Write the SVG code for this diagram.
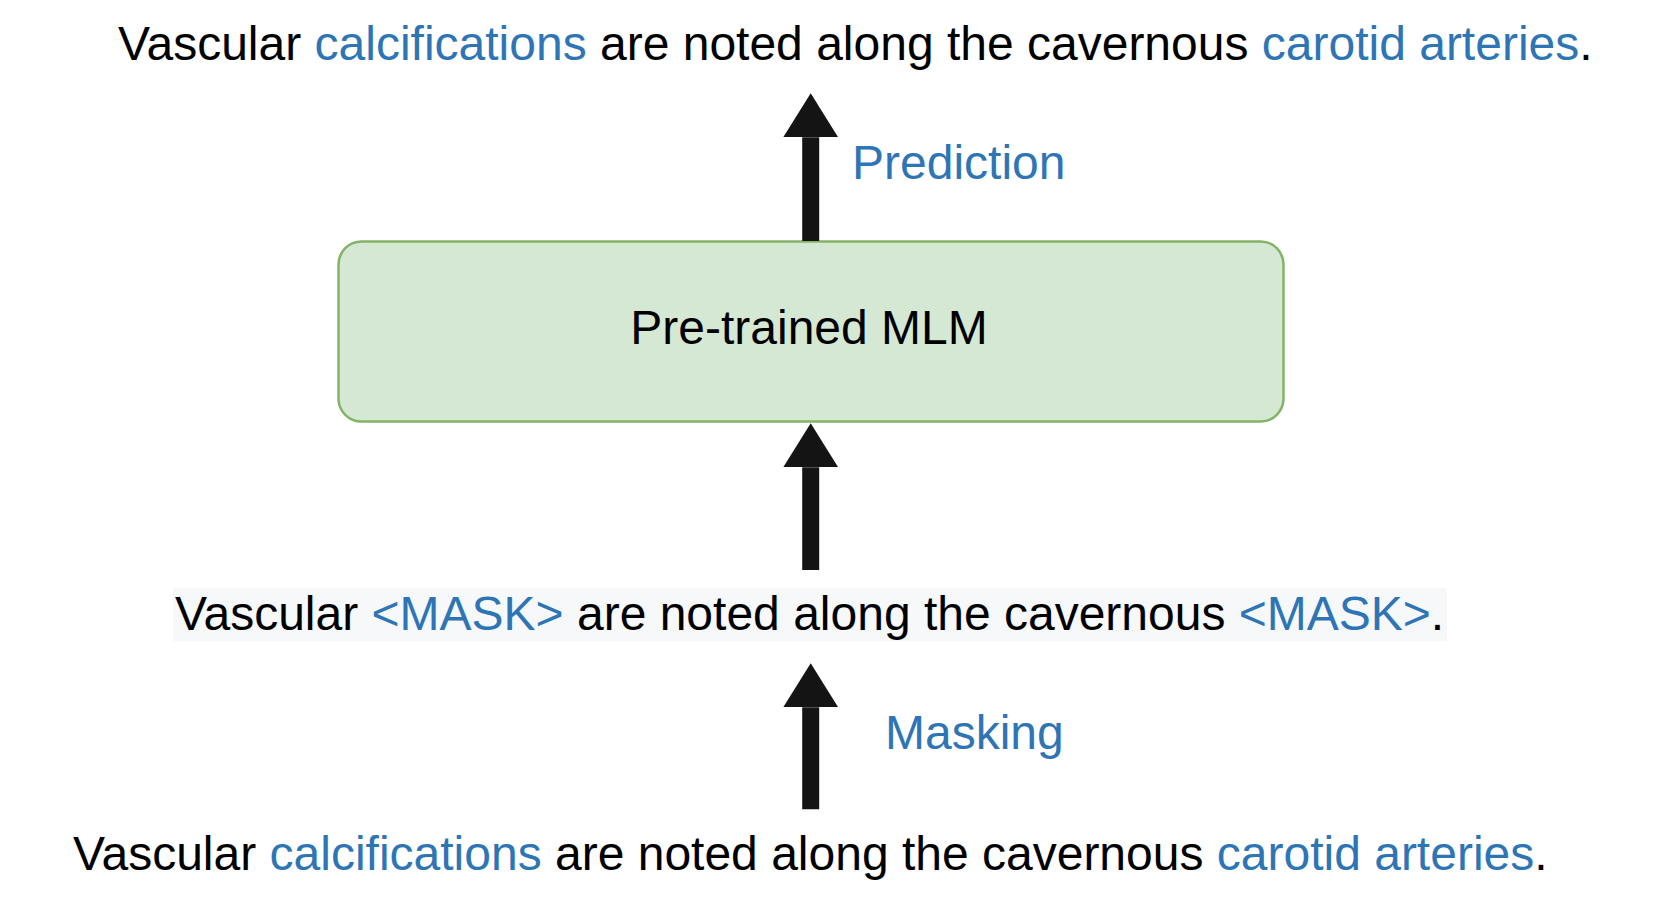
<svg xmlns="http://www.w3.org/2000/svg" width="1671" height="903" viewBox="0 0 1671 903">
  <style>
    .t { font-family: "Liberation Sans", Arial, sans-serif; font-size: 48px; fill: #000000; }
    .b { fill: #2e75b6; }
    .arrow { stroke: #141414; stroke-width: 17; fill: none; marker-end: url(#head); }
    .box { fill: #d5e8d4; stroke: #82b366; stroke-width: 2.5; }
  </style>
  <defs>
    <marker id="head" viewBox="0 0 44 55" refX="0" refY="27.5" markerWidth="44" markerHeight="55" markerUnits="userSpaceOnUse" orient="auto">
      <path d="M0,0 L44,27.5 L0,55 Z" fill="#141414"/>
    </marker>
  </defs>
  <rect width="1671" height="903" fill="#ffffff"/>

  <g id="output-sentence">
    <text class="t" x="118" y="60">Vascular <tspan class="b">calcifications</tspan> are noted along the cavernous <tspan class="b">carotid arteries</tspan>.</text>
  </g>

  <g id="prediction-label">
    <text class="t b" x="852" y="179">Prediction</text>
  </g>

  <g id="mlm">
    <rect class="box" x="338.5" y="241.5" width="945" height="180" rx="23" ry="23"/>
    <text class="t" x="809" y="344" text-anchor="middle">Pre-trained MLM</text>
  </g>

  <g id="masked-sentence">
    <rect x="173" y="588" width="1274" height="53" fill="#f6f8fa"/>
    <text class="t" x="175" y="630">Vascular <tspan class="b">&lt;MASK&gt;</tspan> are noted along the cavernous <tspan class="b">&lt;MASK&gt;</tspan>.</text>
  </g>

  <g id="masking-label">
    <text class="t b" x="885" y="749">Masking</text>
  </g>

  <g id="input-sentence">
    <text class="t" x="73" y="870">Vascular <tspan class="b">calcifications</tspan> are noted along the cavernous <tspan class="b">carotid arteries</tspan>.</text>
  </g>

  <g id="connectors">
    <line class="arrow" x1="810.7" y1="241" x2="810.7" y2="137.3"/>
    <line class="arrow" x1="810.7" y1="570" x2="810.7" y2="467.3"/>
    <line class="arrow" x1="810.7" y1="809.3" x2="810.7" y2="707.3"/>
  </g>
</svg>
